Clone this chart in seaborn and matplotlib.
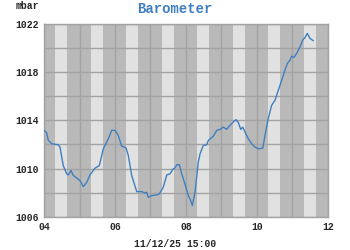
import matplotlib
matplotlib.use("Agg")
import matplotlib.pyplot as plt
import seaborn as sns
import pandas as pd
import numpy as np

# hours since day 04 00:00
hours = [0, 1.8, 2.9, 5.2, 9.7, 10.8, 13.0, 15.3, 16.4, 18.3, 19.8, 22.1, 24.3, 26.6,
         28.9, 31.1, 34.5, 37.4, 40.1, 43.5, 45.8, 48.0, 50.2, 52.5, 55.4, 57.0, 59.3,
         62.7, 66.1, 68.3, 69.4, 70.5, 72.8, 76.2, 77.9, 80.6, 83.0, 85.2, 87.0, 88.6,
         89.7, 91.5, 93.1, 95.3, 97.6, 99.2, 100.3, 102.1, 104.3, 105.5, 107.7, 110.0,
         111.1, 114.5, 116.8, 119.0, 121.2, 123.5, 125.7, 128.0, 129.8, 131.4, 133.0,
         134.3, 135.9, 138.1, 140.4, 142.6, 144.9, 147.9, 149.4, 151.6, 153.9, 156.2,
         158.4, 160.7, 162.9, 164.5, 166.3, 167.5, 169.0, 170.8, 173.1, 174.9, 176.4,
         178.0, 179.8, 182.1]
pressure = [1013.17, 1012.97, 1012.33, 1012.06, 1011.97, 1011.78, 1010.25, 1009.56,
            1009.47, 1009.83, 1009.42, 1009.22, 1009.0, 1008.5, 1008.86, 1009.47,
            1010.03, 1010.25, 1011.64, 1012.47, 1013.17, 1013.17, 1012.75, 1011.86,
            1011.72, 1011.08, 1009.42, 1008.08, 1008.08, 1007.97, 1008.03, 1007.61,
            1007.75, 1007.81, 1007.89, 1008.44, 1009.47, 1009.56, 1009.92, 1010.06,
            1010.31, 1010.31, 1009.56, 1008.72, 1007.75, 1007.33, 1006.92, 1008.03,
            1010.53, 1011.22, 1011.92, 1011.97, 1012.33, 1012.69, 1013.17, 1013.25,
            1013.44, 1013.25, 1013.58, 1013.86, 1014.06, 1013.81, 1013.25, 1013.44,
            1013.03, 1012.47, 1012.06, 1011.78, 1011.64, 1011.69, 1012.75, 1014.14,
            1015.25, 1015.67, 1016.5, 1017.33, 1018.17, 1018.72, 1019.0, 1019.33,
            1019.22, 1019.56, 1020.11, 1020.67, 1020.86, 1021.22, 1020.81, 1020.61]
x_tick_labels = ["04", "06", "08", "10", "12"]
y_tick_labels = ["1006", "1010", "1014", "1018", "1022"]

df = pd.DataFrame({"hours": hours, "pressure": pressure})

sns.set_style("white")
plt.rcParams['font.family'] = ['Liberation Mono', 'DejaVu Sans Mono']

fig = plt.figure(figsize=(3.5, 2.5), dpi=100)
ax = fig.add_axes([44/350, 1-216.7/250, 284/350, (216.7-24)/250])
ax.set_facecolor("#b9b9b9")

ndays = 8
for d in range(ndays):
    ax.axvspan(d*24 + 7.5, d*24 + 15.75, color="#e1e1e1", lw=0, zorder=0)

sns.lineplot(data=df, x="hours", y="pressure", ax=ax, color="#3f7fbf", lw=1.0, zorder=3)

ax.set_xlim(0, ndays*24)
ax.set_ylim(1006, 1022)
ax.set_xticks([0, 48, 96, 144, 192])
ax.set_xticklabels(x_tick_labels)
ax.set_xticks(np.arange(0, 193, 24), minor=True)
ax.set_yticks([1006, 1010, 1014, 1018, 1022])
ax.set_yticklabels(y_tick_labels)
ax.set_yticks(np.arange(1006, 1023, 2), minor=True)
ax.grid(which="both", color="#a3a3a3", lw=1.0, zorder=1)
ax.set_axisbelow(True)
ax.tick_params(which="both", length=0)
ax.tick_params(axis="y", pad=4)
ax.tick_params(axis="x", pad=4)
for lab in ax.get_xticklabels() + ax.get_yticklabels():
    lab.set_fontweight("bold")
    lab.set_fontsize(7)
for s in ax.spines.values():
    s.set_color("#a3a3a3")
    s.set_linewidth(1.0)
ax.set_xlabel("")
ax.set_ylabel("")

fig.text(175/350, 1-9/250, "Barometer", ha="center", va="center",
         color="#3f7fbf", fontsize=10, fontweight="bold")
fig.text(27/350, 1-6/250, "mbar", ha="center", va="center", fontsize=7, fontweight="bold")
fig.text(175/350, 1-244/250, "11/12/25 15:00", ha="center", va="center",
         fontsize=7, fontweight="bold")

fig.savefig("out.png", dpi=100)
